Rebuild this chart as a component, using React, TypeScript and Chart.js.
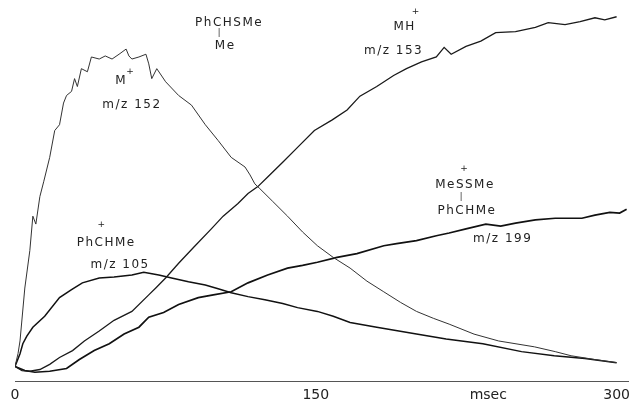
import React, { useEffect, useRef } from "react";
import { Chart, registerables } from "chart.js";

Chart.register(...registerables);

// m/z 152 (M+.)
const T152 = [0, 1.5, 2.5, 4.9, 7.4, 8.9, 10.4, 12.4, 14.3, 17.3, 19.8, 22.2, 24.2, 25.7, 28.2, 29.7, 31.1, 33.1, 36.1, 38.1, 42, 45, 48.4, 51.9, 55.4, 56.8, 58.3, 61.8, 65.3, 66.7, 68.2, 70.7, 75.1, 81.6, 88, 94.9, 101.3, 107.8, 114.7, 117.2, 119.6, 122.1, 128.5, 135.9, 143.4, 150.8, 158.7, 167.1, 175.5, 183.9, 192.3, 200.2, 208.6, 216.5, 228.9, 241.2, 259, 269.4, 277.3, 289.2, 300];
const V152 = [4.3, 8, 11.7, 27.1, 38, 48, 45.7, 53.7, 58, 65.1, 72.9, 74.6, 80.9, 83.1, 84.3, 88, 85.7, 90.9, 90, 94.3, 93.7, 94.6, 93.7, 95.1, 96.6, 94.6, 93.7, 94.3, 95.1, 92.3, 88, 90.9, 87.1, 83.1, 80.3, 74.6, 70, 65.1, 62.3, 60, 57.4, 56, 52.3, 48, 43.4, 39.4, 36, 32.9, 29.1, 26, 22.9, 20.3, 18.3, 16.6, 13.7, 11.7, 10, 8.6, 7.4, 6.3, 5.4];

// m/z 153 (MH+)
const T153 = [0, 3.5, 7.4, 12.4, 17.3, 22.2, 28.7, 34.6, 42, 49.4, 58.3, 66.7, 70.2, 75.1, 81.6, 89, 97.9, 103.8, 111.2, 116.2, 121.1, 126, 133.5, 140.9, 149.3, 158.2, 165.6, 172, 180.4, 188.8, 195.2, 202.7, 210.1, 214, 217.5, 224.9, 232.3, 239.7, 249.6, 259.5, 265.9, 274.3, 281.8, 289.2, 294.1, 300];
const V153 = [4.3, 3.1, 2.9, 3.4, 4.9, 6.9, 8.9, 11.7, 14.6, 17.7, 20.3, 25.1, 27.1, 30, 34.3, 38.9, 44.3, 48, 51.7, 54.6, 56.6, 59.4, 63.7, 68, 72.9, 76, 78.9, 82.9, 85.7, 88.9, 90.9, 92.9, 94.3, 97.1, 95.1, 97.4, 98.9, 101.4, 101.7, 102.9, 104.3, 103.7, 104.6, 105.7, 105.1, 106];

// m/z 199
const T199 = [0, 4.9, 9.9, 17.3, 25.7, 32.1, 39.5, 47, 54.4, 61.8, 66.7, 74.1, 81.6, 91.4, 98.9, 107.8, 116.2, 126, 135.9, 143.4, 150.8, 160.6, 170.5, 183.9, 190.3, 200.2, 210.1, 216.5, 224.9, 234.8, 242.2, 249.6, 259.5, 269.4, 282.7, 289.2, 296.6, 301.5, 305];
const V199 = [4.3, 3.1, 2.6, 2.9, 3.7, 6.3, 8.9, 10.9, 13.7, 15.7, 18.6, 20, 22.3, 24.3, 25.1, 26, 28.6, 30.9, 32.9, 33.7, 34.6, 36, 37.1, 39.4, 40, 40.9, 42.3, 43.1, 44.3, 45.7, 45.1, 46, 46.9, 47.4, 47.4, 48.3, 49.1, 48.9, 50];

// m/z 105
const T105 = [0, 2.5, 3.9, 5.9, 8.9, 14.8, 22.2, 28.2, 33.6, 42, 49.4, 58.3, 64.2, 71.7, 78.1, 86.5, 94.9, 101.3, 107.8, 116.2, 124.6, 133.5, 140.9, 150.8, 158.7, 167.1, 180.4, 200.2, 215, 233.3, 252.6, 268.9, 284.2, 300];
const V105 = [4.3, 8, 10.9, 13.1, 15.7, 18.9, 24.3, 26.6, 28.6, 30, 30.3, 30.9, 31.7, 30.9, 30, 28.9, 28, 26.9, 25.7, 24.6, 23.7, 22.6, 21.4, 20.3, 18.9, 17.1, 15.7, 13.7, 12.3, 10.9, 8.6, 7.4, 6.6, 5.4];

// x-axis tick labels
const X_TICK_VALUES = [0, 150, 236, 300];
const X_TICK_LABELS = ["0", "150", "msec", "300"];

// annotation texts (placed at data coordinates)
const ANN_TEXT = ["PhCHSMe", "|", "Me", "M", "+", "m/z 152", "MH", "+", "m/z 153", "+", "MeSSMe", "|", "PhCHMe", "m/z 199", "+", "PhCHMe", "m/z 105"];
const ANN_X = [106.8, 101.8, 104.8, 52.9, 57.3, 58.3, 194.3, 199.7, 188.8, 223.9, 224.4, 222.4, 225.4, 243.2, 43, 45.5, 52.4];
const ANN_Y = [104.3, 101.2, 97.4, 87.4, 89.9, 80.3, 103.1, 107.4, 96, 61.7, 57.1, 53.5, 49.4, 41.4, 45.4, 40.3, 33.7];
const ANN_SIZE = [12, 8, 12, 12, 9, 12, 12, 9, 12, 9, 12, 8, 12, 12, 9, 12, 12];

const toPoints = (xs: number[], ys: number[]) => xs.map((x, i) => ({ x, y: ys[i] }));

const annotationPlugin = {
  id: "annotations",
  afterDatasetsDraw(chart: any) {
    const { ctx, scales } = chart;
    ctx.save();
    ctx.fillStyle = "#222";
    ctx.textAlign = "center";
    ctx.textBaseline = "middle";
    ANN_TEXT.forEach((t, i) => {
      ctx.font = `${ANN_SIZE[i]}px "DejaVu Sans"`;
      try {
        (ctx as any).letterSpacing = ANN_SIZE[i] >= 12 ? "1.5px" : "0px";
      } catch (e) {}
      ctx.fillText(t, scales.x.getPixelForValue(ANN_X[i]), scales.y.getPixelForValue(ANN_Y[i]));
    });
    ctx.restore();
  },
};

export default function App() {
  const ref = useRef<HTMLCanvasElement | null>(null);
  useEffect(() => {
    if (!ref.current) return;
    const chart = new Chart(ref.current, {
      type: "line",
      data: {
        datasets: [
          { label: "m/z 152", data: toPoints(T152, V152), borderColor: "#333", borderWidth: 1, pointRadius: 0, tension: 0 },
          { label: "m/z 153", data: toPoints(T153, V153), borderColor: "#1a1a1a", borderWidth: 1.3, pointRadius: 0, tension: 0 },
          { label: "m/z 199", data: toPoints(T199, V199), borderColor: "#111", borderWidth: 1.7, pointRadius: 0, tension: 0 },
          { label: "m/z 105", data: toPoints(T105, V105), borderColor: "#111", borderWidth: 1.5, pointRadius: 0, tension: 0 },
        ],
      },
      options: {
        animation: false,
        responsive: false,
        maintainAspectRatio: false,
        layout: { padding: { left: 15, right: 2, top: 3, bottom: 0 } },
        plugins: { legend: { display: false }, tooltip: { enabled: false } },
        scales: {
          x: {
            type: "linear",
            min: 0,
            max: 306,
            grid: { display: false, drawTicks: false },
            border: { display: true, color: "#555", width: 1, dash: [40, 3, 70, 4, 25, 2, 90, 5, 30, 3] },
            afterBuildTicks: (axis: any) => {
              axis.ticks = X_TICK_VALUES.map((v) => ({ value: v }));
            },
            ticks: {
              autoSkip: false,
              maxRotation: 0,
              padding: 6,
              color: "#222",
              font: { family: "DejaVu Sans", size: 14 },
              callback: (_v: any, i: number) => X_TICK_LABELS[i],
            },
          },
          y: { display: false, min: 0, max: 110 },
        },
      },
      plugins: [annotationPlugin],
    });
    return () => chart.destroy();
  }, []);
  return (
    <div style={{ position: "fixed", left: 0, top: 0, width: 636, height: 410, background: "#fff" }}>
      <canvas ref={ref} width={636} height={410} style={{ width: 636, height: 410 }} />
    </div>
  );
}
